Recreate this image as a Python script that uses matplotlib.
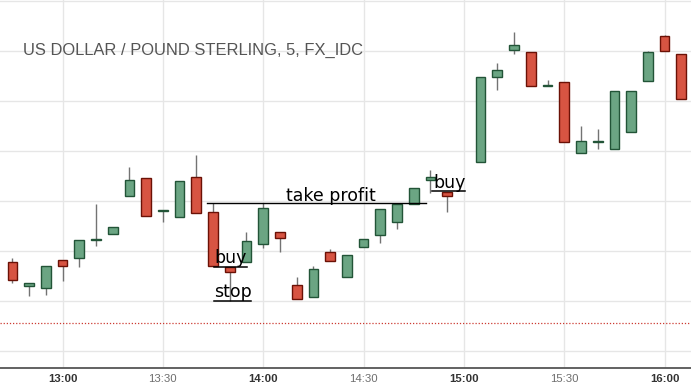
import matplotlib
matplotlib.use("Agg")
import matplotlib.pyplot as plt

# 5-minute candles, USD/GBP (15:00 bar missing in the source)
times = ["12:45", "12:50", "12:55", "13:00", "13:05", "13:10", "13:15", "13:20",
         "13:25", "13:30", "13:35", "13:40", "13:45", "13:50", "13:55", "14:00",
         "14:05", "14:10", "14:15", "14:20", "14:25", "14:30", "14:35", "14:40",
         "14:45", "14:50", "14:55", "15:05", "15:10", "15:15", "15:20", "15:25",
         "15:30", "15:35", "15:40", "15:45", "15:50", "15:55", "16:00", "16:05"]
opens = [0.76089, 0.76065, 0.76063, 0.76091, 0.76093, 0.76111, 0.76117, 0.76155,
         0.76173, 0.76140, 0.76134, 0.76174, 0.76139, 0.76084, 0.76089, 0.76107,
         0.76119, 0.76066, 0.76054, 0.76099, 0.76074, 0.76104, 0.76116, 0.76129,
         0.76147, 0.76171, 0.76159, 0.76189, 0.76274, 0.76301, 0.76299, 0.76265,
         0.76269, 0.76198, 0.76209, 0.76202, 0.76219, 0.76270, 0.76315, 0.76297]
highs = [0.76093, 0.76068, 0.76085, 0.76091, 0.76111, 0.76147, 0.76124, 0.76184,
         0.76173, 0.76140, 0.76170, 0.76196, 0.76148, 0.76084, 0.76119, 0.76148,
         0.76119, 0.76074, 0.76085, 0.76102, 0.76096, 0.76112, 0.76142, 0.76147,
         0.76163, 0.76181, 0.76159, 0.76274, 0.76288, 0.76319, 0.76299, 0.76271,
         0.76269, 0.76225, 0.76222, 0.76260, 0.76260, 0.76300, 0.76316, 0.76297]
lows = [0.76068, 0.76055, 0.76056, 0.76070, 0.76084, 0.76105, 0.76117, 0.76155,
        0.76135, 0.76129, 0.76134, 0.76138, 0.76085, 0.76050, 0.76089, 0.76103,
        0.76099, 0.76052, 0.76054, 0.76090, 0.76074, 0.76104, 0.76108, 0.76122,
        0.76147, 0.76158, 0.76139, 0.76189, 0.76261, 0.76297, 0.76265, 0.76265,
        0.76209, 0.76198, 0.76202, 0.76202, 0.76219, 0.76270, 0.76300, 0.76252]
closes = [0.76071, 0.76068, 0.76085, 0.76085, 0.76111, 0.76112, 0.76124, 0.76171,
          0.76135, 0.76140, 0.76170, 0.76138, 0.76085, 0.76079, 0.76110, 0.76143,
          0.76113, 0.76052, 0.76082, 0.76090, 0.76096, 0.76112, 0.76142, 0.76147,
          0.76163, 0.76174, 0.76155, 0.76274, 0.76281, 0.76306, 0.76265, 0.76265,
          0.76209, 0.76210, 0.76209, 0.76260, 0.76260, 0.76299, 0.76300, 0.76252]

tick_labels = ["13:00", "13:30", "14:00", "14:30", "15:00", "15:30", "16:00"]

take_profit = 0.76148
buy_level = 0.760837
stop_level = 0.76050
buy2_level = 0.761595
ref_price = 0.76028


def mins(t):
    h, m = t.split(":")
    return int(h) * 60 + int(m)


UP_FILL, UP_EDGE = "#6ba583", "#225437"
DN_FILL, DN_EDGE = "#d75442", "#6b1106"

fig = plt.figure(figsize=(6.91, 3.84), dpi=100)
ax = fig.add_axes([0, 16 / 384, 1, 368 / 384])

x = [mins(t) for t in times]
ax.vlines(x, lows, highs, color="#737373", lw=1.0, zorder=2)
for xi, o, c in zip(x, opens, closes):
    up = c >= o
    h = abs(c - o)
    ax.bar(xi, max(h, 0.000005), width=2.9, bottom=min(o, c),
           color=UP_FILL if up else DN_FILL, edgecolor=UP_EDGE if up else DN_EDGE,
           lw=1.0, zorder=3)

ax.axhline(ref_price, color="#cc3b32", lw=0.9, ls=(0, (1, 1.5)), zorder=1)

# annotations
ax.plot([mins("13:43") + 0.1, mins("14:48") + 0.7], [take_profit, take_profit],
        color="black", lw=1.0, zorder=4)
ax.text(mins("14:06") + 0.8, take_profit + 0.000015, "take profit", fontsize=12.5,
        color="black", va="baseline", zorder=5)
ax.text(mins("13:45") + 0.3, buy_level + 0.000045, "buy", fontsize=12.5,
        color="black", va="baseline", zorder=5)
ax.plot([mins("13:45") + 0.3, mins("13:55") + 0.2], [buy_level, buy_level],
        color="black", lw=1.1, zorder=5)
ax.text(mins("13:45") + 0.3, stop_level + 0.000043, "stop", fontsize=12.5,
        color="black", va="baseline", zorder=5)
ax.plot([mins("13:45") + 0.3, mins("13:56") + 0.4], [stop_level, stop_level],
        color="black", lw=1.1, zorder=5)
ax.text(mins("14:50") + 0.8, buy2_level + 0.000035, "buy", fontsize=12.5,
        color="black", va="baseline", zorder=5)
ax.plot([mins("14:50") + 0.5, mins("15:00") + 0.4], [buy2_level, buy2_level],
        color="black", lw=1.1, zorder=5)

ax.text(0.033, 0.8505, "US DOLLAR / POUND STERLING, 5, FX_IDC", transform=ax.transAxes,
        fontsize=11.9, color="#555555", family="Liberation Sans", va="baseline")

ax.set_xlim(761.3, 967.9)
ax.set_ylim(0.75983, 0.76351)
ax.set_xticks([mins(t) for t in tick_labels])
ax.set_xticklabels(tick_labels)
ax.set_yticks([0.76 + 0.0005 * i for i in range(0, 8)])
ax.tick_params(axis="y", left=False, labelleft=False)
ax.tick_params(axis="x", length=0, pad=4.5)
for lab in ax.get_xticklabels():
    lab.set_family("Liberation Sans")
    lab.set_fontsize(8.2)
    if lab.get_text().endswith(":00"):
        lab.set_fontweight("bold")
        lab.set_color("#333333")
    else:
        lab.set_color("#6e6e6e")

ax.grid(True, color="#e6e6e6", lw=1.0, zorder=0)
ax.set_axisbelow(True)
for s in ["top", "left", "right"]:
    ax.spines[s].set_visible(False)
ax.spines["bottom"].set_color("#555555")
ax.spines["bottom"].set_linewidth(1.3)

fig.savefig("out.png", dpi=100)
